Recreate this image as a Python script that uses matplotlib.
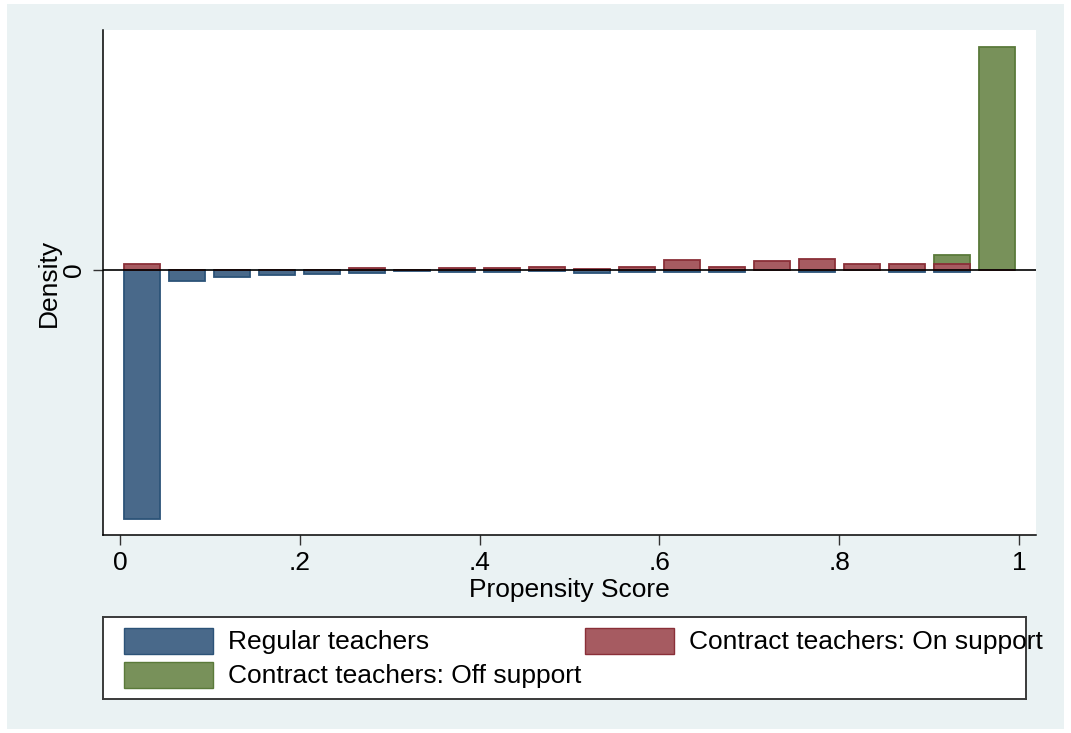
import matplotlib
matplotlib.use("Agg")
import matplotlib.pyplot as plt
from matplotlib.patches import Rectangle
import numpy as np

# Propensity score histogram: 20 bins of width 0.05 on [0, 1]
bin_width = 0.05
bin_centers = np.arange(20) * bin_width + bin_width / 2

# Densities (regular teachers plotted below zero)
regular = [16.6, 0.75, 0.47, 0.33, 0.29, 0.22, 0.09, 0.13, 0.11, 0.07,
           0.20, 0.13, 0.11, 0.13, 0.02, 0.11, 0.02, 0.13, 0.13, 0.0]
contract_on = [0.38, 0.0, 0.0, 0.0, 0.0, 0.11, 0.0, 0.13, 0.11, 0.18,
               0.09, 0.23, 0.65, 0.23, 0.58, 0.76, 0.38, 0.38, 0.43, 0.0]
contract_off = [0.0] * 18 + [0.98, 14.9]

xtick_values = [0, 0.2, 0.4, 0.6, 0.8, 1.0]
xtick_labels = ["0", ".2", ".4", ".6", ".8", "1"]
legend_labels = ["Regular teachers", "Contract teachers: On support",
                 "Contract teachers: Off support"]

blue_face, blue_edge = "#49698A", "#2C5378"
red_face, red_edge = "#A65B61", "#8A2F38"
green_face, green_edge = "#78915A", "#5A7A3A"
bg = "#EAF2F3"

plt.rcParams["font.family"] = ["Liberation Sans", "DejaVu Sans"]
FS = 19

W, H = 1071, 733
fig = plt.figure(figsize=(W / 100, H / 100), dpi=100, facecolor="white")


def fx(px):
    return px / W


def fy(py):
    return 1 - py / H


# Graph region background
fig.patches.append(Rectangle((fx(7), fy(729)), fx(1064) - fx(7), fy(4) - fy(729),
                             transform=fig.transFigure, facecolor=bg,
                             edgecolor="none", zorder=-10))

# Plot area
ax_l, ax_r, ax_t, ax_b = 103, 1036, 30, 534.5
ax = fig.add_axes([fx(ax_l), fy(ax_b), fx(ax_r) - fx(ax_l), fy(ax_t) - fy(ax_b)])
ax.set_facecolor("white")

bar_w = 0.04
ax.bar(bin_centers, -np.array(regular), width=bar_w, color=blue_face,
       edgecolor=blue_edge, linewidth=1.3, zorder=2)
ax.bar(bin_centers, contract_off, width=bar_w, color=green_face,
       edgecolor=green_edge, linewidth=1.3, zorder=2)
ax.bar(bin_centers, contract_on, width=bar_w, color=red_face,
       edgecolor=red_edge, linewidth=1.3, zorder=3)
ax.axhline(0, color="black", linewidth=1.2, zorder=4)

ax.set_xlim((ax_l - 120) / 899, (ax_r - 120) / 899)
ax.set_ylim(-(ax_b - 270) / 15, (270 - ax_t) / 15)

for s in ("top", "right"):
    ax.spines[s].set_visible(False)
for s in ("left", "bottom"):
    ax.spines[s].set_linewidth(1.1)
    ax.spines[s].set_color("black")

ax.set_xticks(xtick_values)
ax.set_xticklabels(xtick_labels, fontsize=FS)
ax.set_yticks([0])
ax.set_yticklabels(["0"], fontsize=FS, rotation=90, va="center")
ax.tick_params(axis="both", length=7.2, width=1.0, color="#333333")
ax.tick_params(axis="x", pad=4.5)
ax.tick_params(axis="y", pad=5)

ax.set_xlabel("Propensity Score", fontsize=FS)
ax.xaxis.set_label_coords(0.5, -0.086)
ax.set_ylabel("Density", fontsize=FS)
ax.yaxis.set_label_coords((61 - ax_l) / (ax_r - ax_l), (ax_b - 283) / (ax_b - ax_t))

# Legend box
lg_l, lg_r, lg_t, lg_b = 103, 1026, 617, 699
lax = fig.add_axes([fx(lg_l), fy(lg_b), fx(lg_r) - fx(lg_l), fy(lg_t) - fy(lg_b)])
lax.set_xlim(lg_l, lg_r)
lax.set_ylim(lg_b, lg_t)
lax.set_xticks([])
lax.set_yticks([])
lax.set_facecolor("white")
for s in lax.spines.values():
    s.set_color("#3a3a3a")
    s.set_linewidth(1.4)

entries = [
    (legend_labels[0], blue_face, blue_edge, 124, 641),
    (legend_labels[1], red_face, red_edge, 585, 641),
    (legend_labels[2], green_face, green_edge, 124, 675),
]
for label, face, edge, x0, yc in entries:
    lax.add_patch(Rectangle((x0, yc - 13), 89, 26, facecolor=face,
                            edgecolor=edge, linewidth=1.0))
    lax.text(x0 + 104, yc + 1, label, fontsize=FS, va="center", ha="left",
             clip_on=False)

fig.savefig("out.png", dpi=100, facecolor="white")
